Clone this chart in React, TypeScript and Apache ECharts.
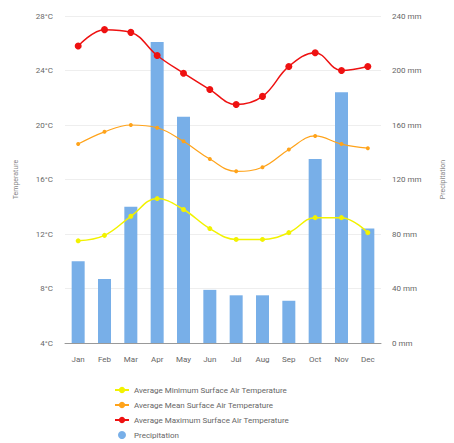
import React, { useEffect, useRef } from "react";
import * as echarts from "echarts";

const months = ["Jan", "Feb", "Mar", "Apr", "May", "Jun", "Jul", "Aug", "Sep", "Oct", "Nov", "Dec"];
const minTemp = [11.5, 11.9, 13.3, 14.6, 13.8, 12.4, 11.6, 11.6, 12.1, 13.2, 13.2, 12.1];
const meanTemp = [18.6, 19.5, 20.0, 19.8, 18.8, 17.5, 16.6, 16.9, 18.2, 19.2, 18.6, 18.3];
const maxTemp = [25.8, 27.0, 26.8, 25.1, 23.8, 22.6, 21.5, 22.1, 24.3, 25.3, 24.0, 24.3];
const precipitation = [60, 47, 100, 221, 166, 39, 35, 35, 31, 135, 184, 84];

export default function App() {
  const ref = useRef<HTMLDivElement>(null);
  useEffect(() => {
    if (!ref.current) return;
    const chart = echarts.init(ref.current, undefined, { renderer: "svg" });
    const font = { fontFamily: "Roboto, sans-serif", fontSize: 8, color: "#666" };
    chart.setOption({
      animation: false,
      grid: { left: 65, right: 65, top: 16, bottom: 100 },
      legend: {
        orient: "vertical",
        left: 114,
        top: 386,
        padding: 0,
        itemGap: 7,
        itemWidth: 14,
        itemHeight: 8,
        textStyle: { ...font },
        data: [
          "Average Minimum Surface Air Temperature",
          "Average Mean Surface Air Temperature",
          "Average Maximum Surface Air Temperature",
          { name: "Precipitation", icon: "circle" },
        ],
      },
      xAxis: {
        type: "category",
        data: months,
        axisTick: { show: false },
        axisLine: { lineStyle: { color: "#999" } },
        axisLabel: { ...font, margin: 12 },
      },
      yAxis: [
        {
          type: "value",
          name: "Temperature",
          nameLocation: "middle",
          nameGap: 46,
          nameRotate: 90,
          nameTextStyle: { ...font, fontSize: 7, color: "#888" },
          min: 4,
          max: 28,
          interval: 4,
          axisLabel: { ...font, formatter: "{value}°C", margin: 12 },
          splitLine: { lineStyle: { color: "#eee" } },
        },
        {
          type: "value",
          name: "Precipitation",
          nameLocation: "middle",
          nameGap: 58,
          nameRotate: 90,
          nameTextStyle: { ...font, fontSize: 7, color: "#888" },
          min: 0,
          max: 240,
          interval: 40,
          axisLabel: { ...font, formatter: "{value} mm", margin: 11 },
          splitLine: { show: false },
        },
      ],
      series: [
        {
          name: "Average Minimum Surface Air Temperature",
          type: "line",
          smooth: 0.4,
          data: minTemp,
          symbol: "circle",
          symbolSize: 5,
          itemStyle: { color: "#f2f200" },
          lineStyle: { width: 1.5 },
          z: 5,
        },
        {
          name: "Average Mean Surface Air Temperature",
          type: "line",
          smooth: 0.4,
          data: meanTemp,
          symbol: "circle",
          symbolSize: 4,
          itemStyle: { color: "#ffa31a" },
          lineStyle: { width: 1.2 },
          z: 5,
        },
        {
          name: "Average Maximum Surface Air Temperature",
          type: "line",
          smooth: 0.4,
          data: maxTemp,
          symbol: "circle",
          symbolSize: 7,
          itemStyle: { color: "#ee1111" },
          lineStyle: { width: 1.5 },
          z: 5,
        },
        {
          name: "Precipitation",
          type: "bar",
          yAxisIndex: 1,
          data: precipitation,
          barWidth: 13,
          itemStyle: { color: "#78afe8" },
          z: 2,
        },
      ],
    });
    return () => chart.dispose();
  }, []);
  return <div ref={ref} style={{ width: 454, height: 443, position: "absolute", left: 0, top: 0 }} />;
}
